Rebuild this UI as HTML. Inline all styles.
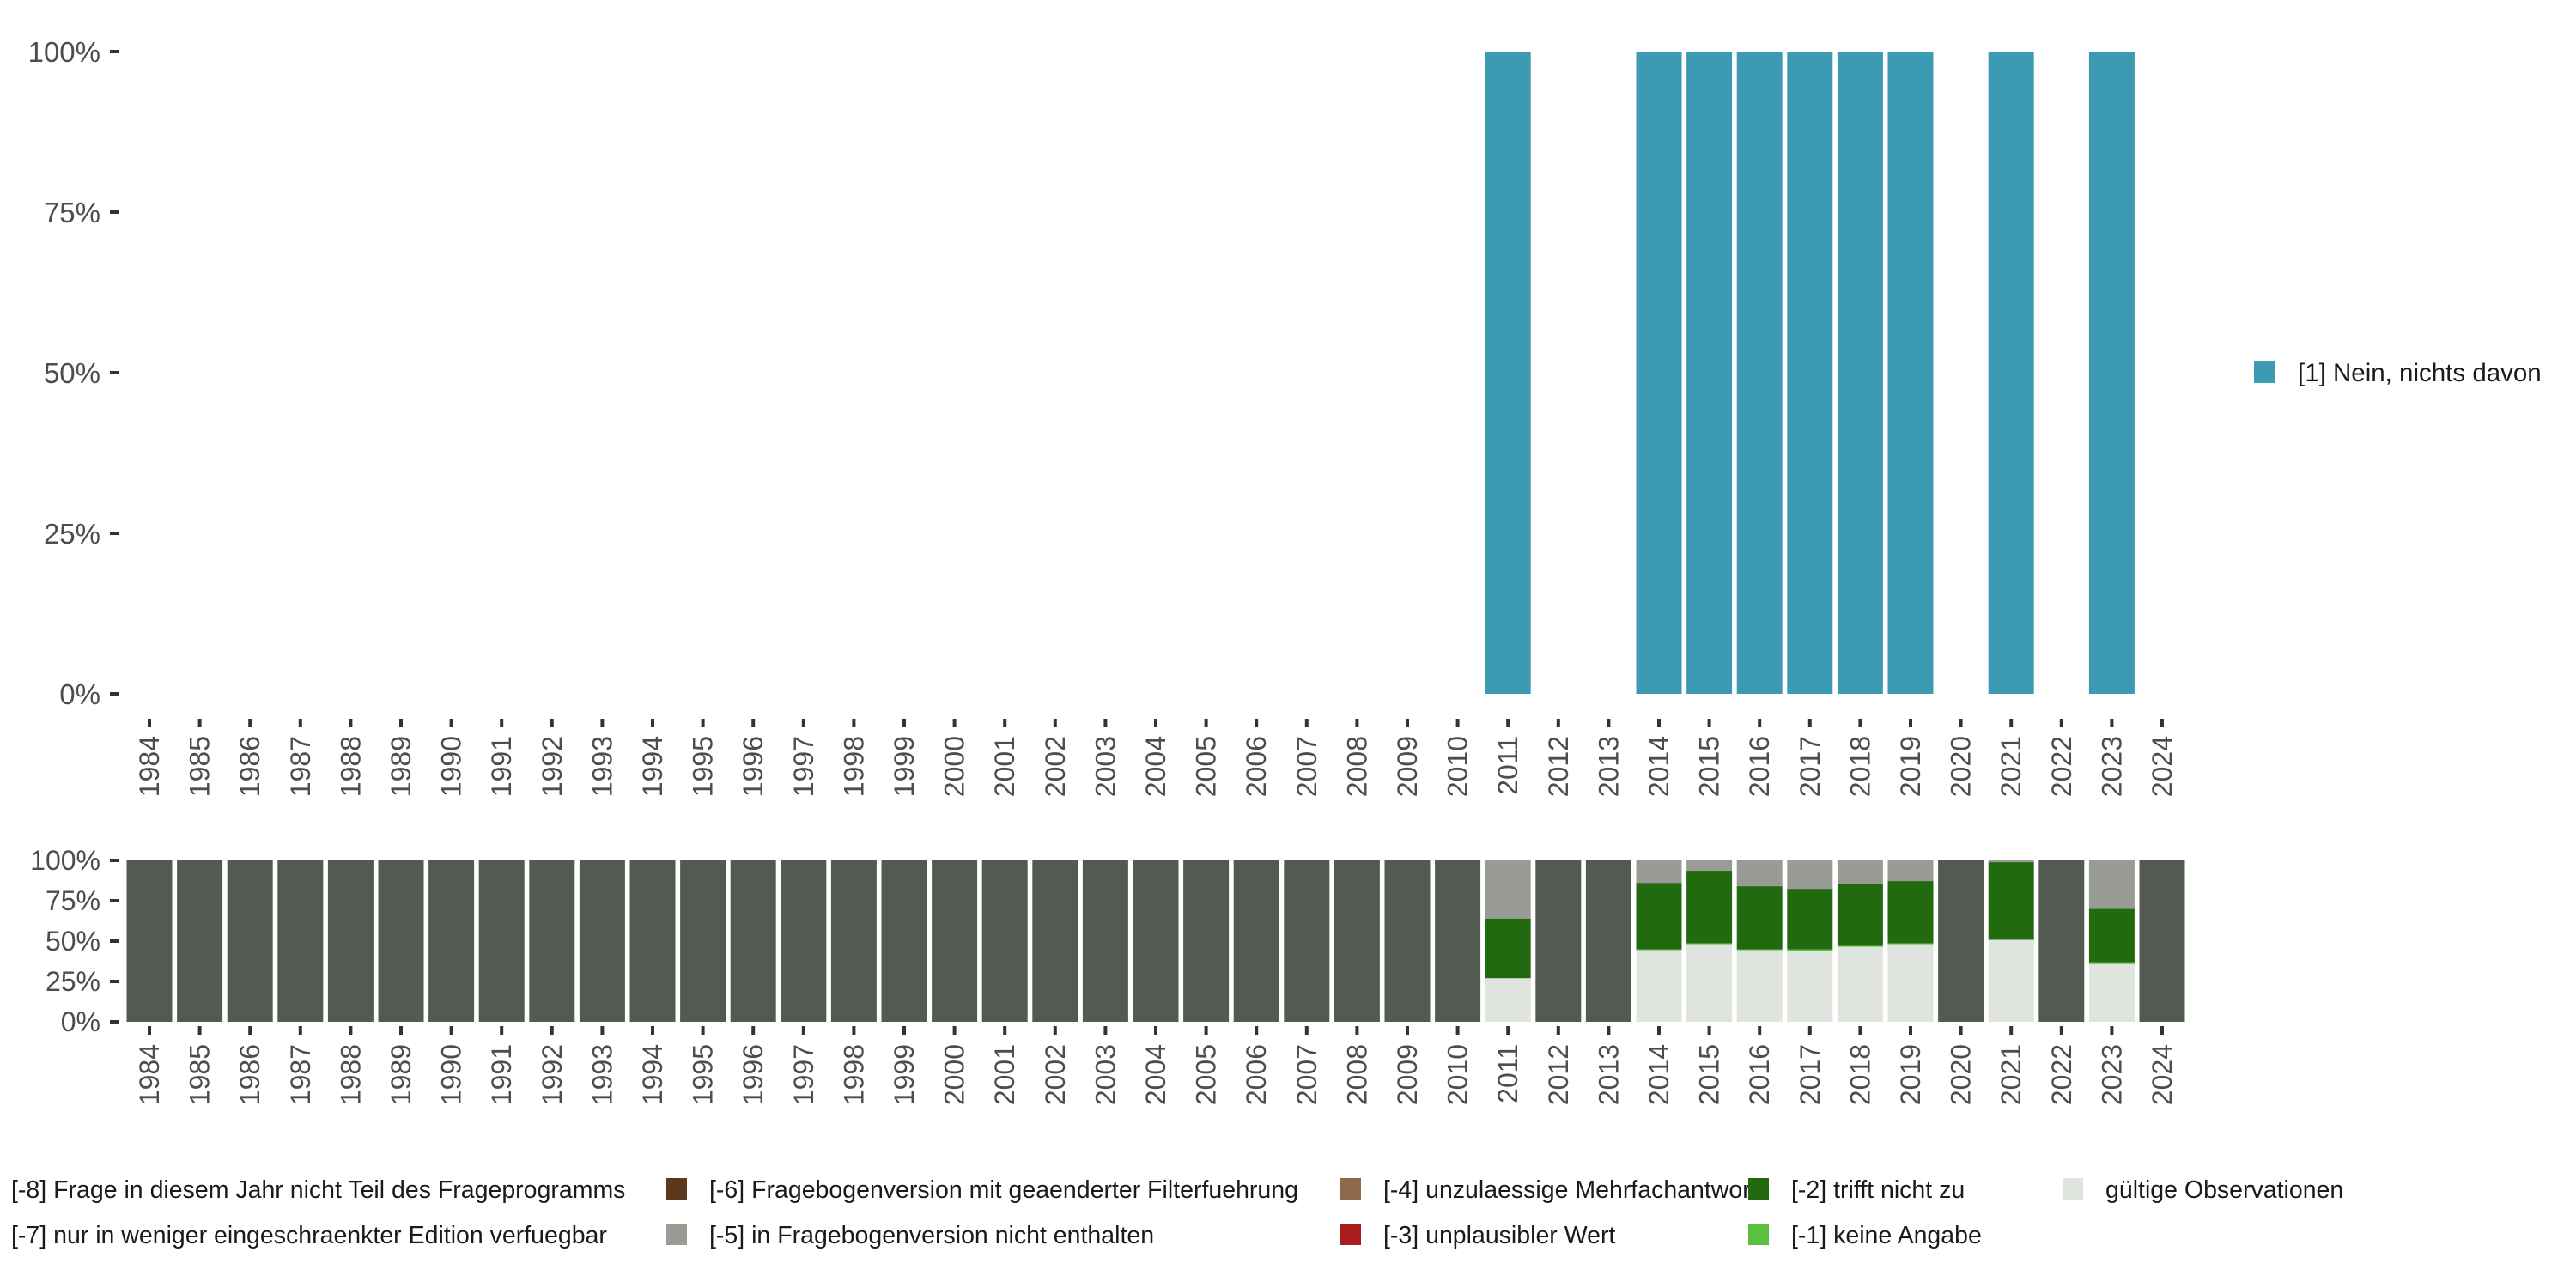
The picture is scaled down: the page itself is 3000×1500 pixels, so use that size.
<!DOCTYPE html>
<html><head><meta charset="utf-8"><style>
html,body{margin:0;padding:0;background:#fff;width:3000px;height:1500px;overflow:hidden}
svg{display:block;font-family:"Liberation Sans",sans-serif}
</style></head><body>
<svg id="chart" width="3000" height="1500" viewBox="0 0 3000 1500">
<g id="top"></g>
<g id="bot"></g>
<g id="leg"></g>
</svg>
<script>
const years = [];
for (let y = 1984; y <= 2024; y++) years.push(y);
const topYears = [2011, 2014, 2015, 2016, 2017, 2018, 2019, 2021, 2023];
const topValues = [1, 1, 1, 1, 1, 1, 1, 1, 1];
const yTicks = [0, 0.25, 0.5, 0.75, 1];
const yTickLabels = ["0%", "25%", "50%", "75%", "100%"];
const botYears = [2011, 2014, 2015, 2016, 2017, 2018, 2019, 2021, 2023];
const validVals = [0.27, 0.444, 0.481, 0.444, 0.439, 0.465, 0.481, 0.508, 0.358];
const kaVals = [0, 0.005, 0.006, 0.005, 0.010, 0.006, 0.006, 0, 0.011];
const tnzVals = [0.37, 0.412, 0.449, 0.391, 0.375, 0.385, 0.385, 0.481, 0.331];

const NS = "http://www.w3.org/2000/svg";
function mk(tag, attrs, parent){const e=document.createElementNS(NS,tag);for(const k in attrs)e.setAttribute(k,attrs[k]);parent.appendChild(e);return e;}
const x0 = 174, step = 58.6, bw = 53;
function xs(y){return x0 + (y - 1984) * step;}
function yTop(v){return 808 - v * 748;}
function yBot(v){return 1190 - v * 188;}
const topG = document.getElementById('top'), botG = document.getElementById('bot'), legG = document.getElementById('leg');

yTicks.forEach((t,i)=>{
  const yy = yTop(t);
  const tk = mk('line',{x1:128,x2:139,y1:yy,y2:yy,stroke:'#333','stroke-width':4},topG);
  
  
  const tx = mk('text',{x:117,y:yy+12,'text-anchor':'end','font-size':33,fill:'#4d4d4d'},topG);
  tx.textContent = yTickLabels[i];
  
  
});
topYears.forEach((yr,i)=>{
  const r = mk('rect',{x:xs(yr)-bw/2,y:yTop(topValues[i]),width:bw,height:yTop(0)-yTop(topValues[i]),fill:'#3c9ab2'},topG);
  
  
});
function xAxis(g, tickY, labY){
  years.forEach(yr=>{
    const x = xs(yr);
    const tk = mk('line',{x1:x,x2:x,y1:tickY,y2:tickY+10,stroke:'#333','stroke-width':4},g);
    
    
    const tx = mk('text',{x:0,y:0,'font-size':32,fill:'#4d4d4d','text-anchor':'end',transform:`translate(${x+11},${labY}) rotate(-90)`},g);
    tx.textContent = yr;
    
    
  });
}
xAxis(topG, 837, 857);

yTicks.forEach((t,i)=>{
  const yy = yBot(t);
  const tk = mk('line',{x1:128,x2:139,y1:yy,y2:yy,stroke:'#333','stroke-width':4},botG);
  
  
  const tx = mk('text',{x:117,y:yy+11,'text-anchor':'end','font-size':32,fill:'#4d4d4d'},botG);
  tx.textContent = yTickLabels[i];
  
  
});
years.forEach(yr=>{
  const i = botYears.indexOf(yr);
  const x = xs(yr)-bw/2;
  if(i<0){
    const r = mk('rect',{x:x,y:yBot(1),width:bw,height:yBot(0)-yBot(1),fill:'#535a52'},botG);
    
    
    return;
  }
  const segs = [[validVals[i],'#e0e4de','valid'],[kaVals[i],'#5bbf3f','keine-angabe'],[tnzVals[i],'#216a0f','trifft-nicht-zu']];
  let acc = 0;
  segs.forEach(s=>{
    const r = mk('rect',{x:x,y:yBot(acc+s[0]),width:bw,height:yBot(acc)-yBot(acc+s[0]),fill:s[1]},botG);
    
    
    acc += s[0];
  });
  const r = mk('rect',{x:x,y:yBot(1),width:bw,height:yBot(acc)-yBot(1),fill:'#999c95'},botG);
  
  
});
xAxis(botG, 1195, 1216);

{
  const r = mk('rect',{x:2625,y:421,width:24,height:25,fill:'#3c9ab2'},legG);
  
  
  const t = mk('text',{x:2676,y:444,'font-size':29.5,fill:'#1a1a1a'},legG);
  t.textContent = '[1] Nein, nichts davon';
  
  
}
const legItems = [
  [null,13,1385,'[-8] Frage in diesem Jahr nicht Teil des Frageprogramms'],
  [null,13,1438,'[-7] nur in weniger eingeschraenkter Edition verfuegbar'],
  ['#5a3a1b',776,1385,'[-6] Fragebogenversion mit geaenderter Filterfuehrung'],
  ['#999c95',776,1438,'[-5] in Fragebogenversion nicht enthalten'],
  ['#8c6a4a',1561,1385,'[-4] unzulaessige Mehrfachantwort'],
  ['#a81c1c',1561,1438,'[-3] unplausibler Wert'],
  ['#216a0f',2036,1385,'[-2] trifft nicht zu'],
  ['#5bbf3f',2036,1438,'[-1] keine Angabe'],
  ['#e0e4de',2402,1385,'gültige Observationen']
];
legItems.forEach(it=>{
  let tx = it[1];
  if(it[0]){
    const r = mk('rect',{x:it[1],y:it[2]-13,width:24,height:25,fill:it[0]},legG);
    
    
    tx = it[1]+50;
  }
  const t = mk('text',{x:tx,y:it[2]+10,'font-size':28.5,fill:'#1a1a1a'},legG);
  t.textContent = it[3];
  
  
});
</script>
</body></html>
